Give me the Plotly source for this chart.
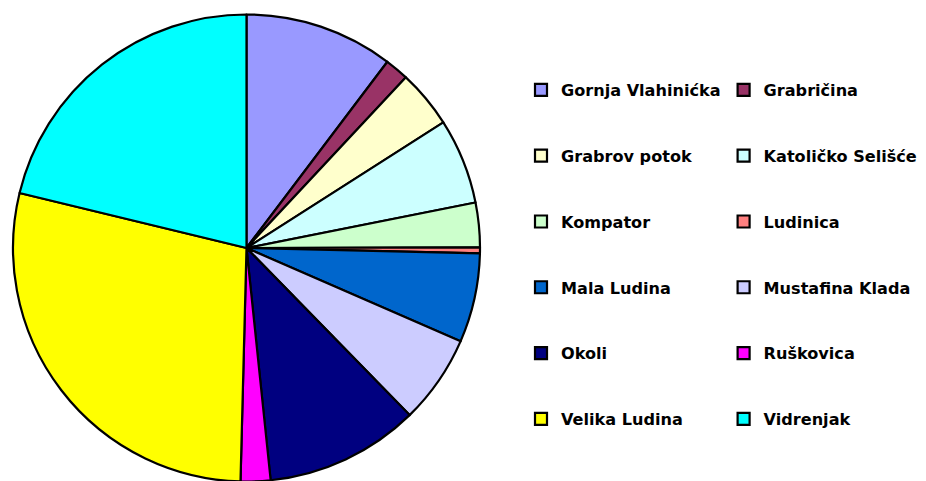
import plotly.graph_objects as go

labels = ["Gornja Vlahinićka", "Grabričina", "Grabrov potok", "Katoličko Selišće",
          "Kompator", "Ludinica", "Mala Ludina", "Mustafina Klada",
          "Okoli", "Ruškovica", "Velika Ludina", "Vidrenjak"]
values = [10.31, 1.65, 4.00, 5.92, 3.08, 0.41, 6.18, 6.15, 10.66, 2.06, 28.38, 21.22]
colors = ["#9999FF", "#993366", "#FFFFCC", "#CCFFFF", "#CCFFCC", "#FF8080",
          "#0066CC", "#CCCCFF", "#000080", "#FF00FF", "#FFFF00", "#00FFFF"]

NB = "\u00a0"
legend_labels = [f"{NB}<br>{l}<br>{NB}" for l in labels]

W, H = 926, 481
OFF = 8  # page body margin offset
ML, MR = 0, 426
GW = W - ML - MR  # 500
cx, cy, r = 246.5 - OFF, 248.0 - OFF, 233.5

fig = go.Figure(go.Pie(
    labels=legend_labels,
    values=values,
    marker=dict(colors=colors, line=dict(color="black", width=2.2)),
    sort=False,
    direction="clockwise",
    rotation=0,
    textinfo="none",
    hoverinfo="percent",
    domain=dict(x=[(cx - r) / GW, (cx + r) / GW],
                y=[(H - cy - r) / H, (H - cy + r) / H]),
))

fig.update_layout(
    width=W, height=H,
    margin=dict(l=ML, r=MR, t=0, b=0, pad=0, autoexpand=False),
    paper_bgcolor="white",
    plot_bgcolor="white",
    showlegend=True,
    legend=dict(
        orientation="h",
        x=(561 - OFF - 40 - ML) / GW, xanchor="left",
        y=1 - (52 - OFF) / H, yanchor="top",
        entrywidth=157.6, entrywidthmode="pixels",
        itemwidth=30,
        maxheight=1,
        font=dict(family="DejaVu Sans", size=16.1, weight="bold", color="black"),
        bgcolor="rgba(0,0,0,0)",
        borderwidth=0,
        traceorder="normal",
    ),
)

fig.write_html("out.html")
